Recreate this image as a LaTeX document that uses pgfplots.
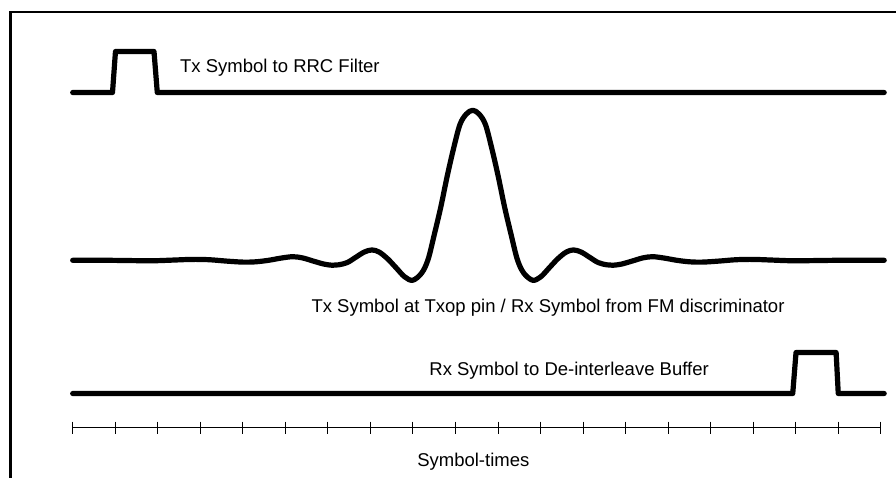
\documentclass[border=0pt]{standalone}
\usepackage{pgfplots}
\pgfplotsset{compat=1.18}
\usepackage{fontspec}
\setmainfont{Liberation Sans}
\begin{document}
\begin{tikzpicture}
\begin{axis}[
  x=42.53pt, y=1pt,
  xmin=-1.709, xmax=19.358, ymin=-477, ymax=0,
  axis lines=none, scale only axis, clip=false,
  sig/.style={black, line width=5.2pt, line cap=round, line join=round, mark=none},
  font=\fontsize{18.5}{22}\selectfont
]
\coordinate (bl) at (axis cs:-1.709,-477);
\coordinate (tr) at (axis cs:19.358,0);
\draw[line width=2.5pt, line join=miter] (axis cs:-1.4625,-12) rectangle (axis cs:19.6,-495);
% Tx symbol to RRC filter
\addplot[sig] coordinates {(0,-92.5) (0.936,-92.5) (1.006,-51.5) (1.912,-51.5) (1.989,-92.5) (19.08,-92.5)};
% Rx symbol to de-interleave buffer
\addplot[sig] coordinates {(0,-393.5) (16.93,-393.5) (17.007,-352.5) (17.95,-352.5) (18.0,-393.5) (19.08,-393.5)};
% Tx symbol at Txop / Rx from FM discriminator
\addplot[sig, smooth, tension=0.55] coordinates {
(0,-260.3) (0.805,-260.3) (1.405,-260.6) (1.905,-260.75) (2.405,-260.0) (2.805,-259.4)
(3.205,-259.7) (3.605,-261.05) (4.005,-262.1) (4.305,-261.8) (4.605,-260.3) (4.905,-258.05)
(5.175,-256.7) (5.405,-257.9) (5.655,-261.05) (5.905,-264.05) (6.105,-265.25) (6.255,-264.8)
(6.455,-262.55) (6.655,-257.3) (6.855,-252.05) (7.035,-249.95) (7.205,-252.05) (7.405,-258.8)
(7.605,-267.8) (7.805,-276.8) (7.995,-280.25) (8.205,-273.05) (8.355,-259.55) (8.505,-234.05)
(8.655,-207.05) (8.805,-176.3) (8.955,-148.55) (9.105,-124.55) (9.255,-114.05) (9.405,-110.3)
(9.555,-114.05) (9.705,-124.55) (9.855,-148.55) (10.005,-176.3) (10.155,-207.05) (10.305,-234.05)
(10.455,-259.55) (10.605,-273.05) (10.815,-280.25) (11.005,-276.8) (11.205,-267.8) (11.405,-258.8)
(11.605,-252.05) (11.775,-249.95) (11.955,-252.05) (12.155,-257.3) (12.355,-262.55) (12.555,-264.8)
(12.705,-265.25) (12.905,-264.05) (13.155,-261.05) (13.405,-257.9) (13.635,-256.7) (13.905,-258.05)
(14.205,-260.3) (14.505,-261.8) (14.805,-262.1) (15.205,-261.05) (15.605,-259.7) (16.005,-259.4)
(16.405,-260.0) (16.905,-260.75) (17.405,-260.6) (18.005,-260.3) (19.08,-260.3)};
% symbol-time scale
\addplot[black, line width=1pt, mark=none] coordinates {(0,-427.7) (19,-427.7)};
\addplot[black, only marks, mark=|, mark size=6pt, mark options={line width=1pt}] coordinates {
(0,-427.7) (1,-427.7) (2,-427.7) (3,-427.7) (4,-427.7) (5,-427.7) (6,-427.7) (7,-427.7)
(8,-427.7) (9,-427.7) (10,-427.7) (11,-427.7) (12,-427.7) (13,-427.7) (14,-427.7) (15,-427.7)
(16,-427.7) (17,-427.7) (18,-427.7) (19,-427.7)};
\node[anchor=base west, inner sep=0pt] at (axis cs:2.523,-72.7) {Tx Symbol to RRC Filter};
\node[anchor=base, inner sep=0pt] at (axis cs:11.176,-312.3) {Tx Symbol at Txop pin / Rx Symbol from FM discriminator};
\node[anchor=base east, inner sep=0pt] at (axis cs:14.96,-375.7) {Rx Symbol to De-interleave Buffer};
\node[anchor=base, inner sep=0pt] at (axis cs:9.42,-466) {Symbol-times};
\end{axis}
\pgfresetboundingbox
\path[use as bounding box] (bl) rectangle (tr);
\end{tikzpicture}
\end{document}
